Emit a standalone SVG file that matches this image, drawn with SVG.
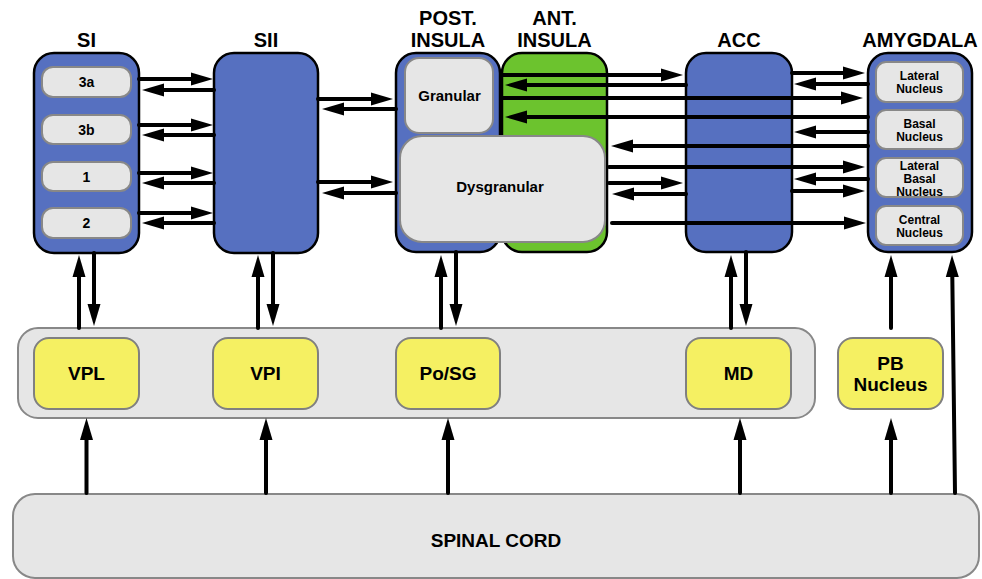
<svg xmlns="http://www.w3.org/2000/svg" width="982" height="579" viewBox="0 0 982 579">
<style>
.t{font-family:"Liberation Sans",Arial,sans-serif;font-weight:bold;fill:#000;text-anchor:middle}
.blue{fill:#5670C0;stroke:#000;stroke-width:2.5}
.green{fill:#6CC32E;stroke:#000;stroke-width:2.5}
.gray{fill:#E6E6E6;stroke:#888;stroke-width:2}
.yel{fill:#F5F062;stroke:#808080;stroke-width:2}
.c line{stroke:#000;stroke-width:4;stroke-linecap:round;marker-end:url(#ah)}
.c line.n{marker-end:none}
</style>
<defs>
<marker id="ah" markerUnits="userSpaceOnUse" markerWidth="22" markerHeight="13" refX="1" refY="6.5" orient="auto" overflow="visible"><path d="M0,0 L22,6.5 L0,13 z" fill="#000"/></marker>
</defs>
<rect width="982" height="579" fill="#fff"/>

<g id="spinal-cord">
<rect class="gray" x="13" y="494" width="966" height="84" rx="22"/>
<text class="t" x="496" y="547" font-size="19">SPINAL CORD</text>
</g>

<g id="thalamus">
<rect class="gray" x="18" y="328" width="797" height="90" rx="20"/>
</g>
<g id="vpl"><rect class="yel" x="34" y="338" width="105" height="71" rx="15"/><text class="t" x="86.5" y="380" font-size="19">VPL</text></g>
<g id="vpi"><rect class="yel" x="213" y="338" width="105" height="71" rx="15"/><text class="t" x="265.5" y="380" font-size="19">VPI</text></g>
<g id="posg"><rect class="yel" x="396" y="338" width="104" height="71" rx="15"/><text class="t" x="448" y="380" font-size="19">Po/SG</text></g>
<g id="md"><rect class="yel" x="686" y="338" width="105" height="71" rx="15"/><text class="t" x="738.5" y="380" font-size="19">MD</text></g>
<g id="pb"><rect class="yel" x="838" y="338" width="105" height="71" rx="15"/><text class="t" x="890.5" y="370" font-size="19">PB</text><text class="t" x="890.5" y="391" font-size="19">Nucleus</text></g>

<g id="si">
<text class="t" x="86.5" y="47" font-size="20">SI</text>
<rect class="blue" x="34" y="53" width="105" height="200" rx="20"/>
<rect class="gray" x="42" y="67" width="89" height="30" rx="11"/><text class="t" x="86.5" y="87" font-size="14">3a</text>
<rect class="gray" x="42" y="115" width="89" height="29" rx="11"/><text class="t" x="86.5" y="134.5" font-size="14">3b</text>
<rect class="gray" x="42" y="162" width="89" height="29" rx="11"/><text class="t" x="86.5" y="181.5" font-size="14">1</text>
<rect class="gray" x="42" y="208" width="89" height="30" rx="11"/><text class="t" x="86.5" y="228" font-size="14">2</text>
</g>

<g id="sii">
<text class="t" x="266" y="47" font-size="20">SII</text>
<rect class="blue" x="214" y="53" width="104" height="200" rx="20"/>
</g>

<g id="ant-insula">
<text class="t" x="554.5" y="25" font-size="20">ANT.</text>
<text class="t" x="554.5" y="47" font-size="20">INSULA</text>
<rect class="green" x="502" y="53" width="105" height="199" rx="20"/>
</g>

<g id="post-insula">
<text class="t" x="448" y="25" font-size="20">POST.</text>
<text class="t" x="448" y="47" font-size="20">INSULA</text>
<rect class="blue" x="396" y="53" width="104" height="199" rx="20"/>
<rect class="gray" x="405" y="58" width="88" height="75" rx="14"/>
<text class="t" x="449.5" y="101" font-size="15">Granular</text>
<rect class="gray" x="400" y="136" width="205" height="106" rx="22"/>
<text class="t" x="500" y="192" font-size="15">Dysgranular</text>
</g>

<g id="acc">
<text class="t" x="739" y="47" font-size="20">ACC</text>
<rect class="blue" x="686" y="53" width="106" height="199" rx="20"/>
</g>

<g id="amygdala">
<text class="t" x="920" y="47" font-size="20">AMYGDALA</text>
<rect class="blue" x="868" y="53" width="104" height="199" rx="20"/>
<rect class="gray" x="876" y="62" width="87" height="40" rx="10"/><text class="t" x="919.5" y="80" font-size="12">Lateral</text><text class="t" x="919.5" y="93" font-size="12">Nucleus</text>
<rect class="gray" x="876" y="110" width="87" height="39" rx="10"/><text class="t" x="919.5" y="128" font-size="12">Basal</text><text class="t" x="919.5" y="141" font-size="12">Nucleus</text>
<rect class="gray" x="876" y="158" width="87" height="39" rx="10"/><text class="t" x="919.5" y="170" font-size="12">Lateral</text><text class="t" x="919.5" y="183" font-size="12">Basal</text><text class="t" x="919.5" y="196" font-size="12">Nucleus</text>
<rect class="gray" x="876" y="206" width="87" height="39" rx="10"/><text class="t" x="919.5" y="224" font-size="12">Central</text><text class="t" x="919.5" y="237" font-size="12">Nucleus</text>
</g>

<g id="connectors" class="c">
<line x1="139" y1="79" x2="192" y2="79"/>
<line x1="214" y1="90" x2="163" y2="90"/>
<line x1="139" y1="125" x2="192" y2="125"/>
<line x1="214" y1="135" x2="163" y2="135"/>
<line x1="139" y1="173" x2="192" y2="173"/>
<line x1="214" y1="183" x2="163" y2="183"/>
<line x1="139" y1="213" x2="192" y2="213"/>
<line x1="214" y1="223" x2="163" y2="223"/>

<line x1="318" y1="99" x2="372" y2="99"/>
<line x1="396" y1="109" x2="343" y2="109"/>
<line x1="318" y1="182" x2="372" y2="182"/>
<line x1="396" y1="193" x2="343" y2="193"/>

<line x1="503" y1="75" x2="662" y2="75"/>
<line x1="686" y1="85" x2="526" y2="85"/>
<line x1="503" y1="98" x2="842" y2="98"/>
<line x1="868" y1="117" x2="526" y2="117"/>
<line x1="868" y1="146" x2="632" y2="146"/>
<line x1="609" y1="167" x2="844" y2="167"/>
<line x1="609" y1="183" x2="662" y2="183"/>
<line x1="686" y1="194" x2="633" y2="194"/>
<line x1="612" y1="223" x2="845" y2="223"/>

<line x1="792" y1="73" x2="844" y2="73"/>
<line x1="868" y1="84" x2="815" y2="84"/>
<line x1="868" y1="132" x2="815" y2="132"/>
<line x1="868" y1="179" x2="815" y2="179"/>
<line x1="792" y1="191" x2="844" y2="191"/>

<line x1="79" y1="328" x2="79" y2="276"/>
<line x1="94" y1="253" x2="94" y2="305"/>
<line x1="258" y1="328" x2="258" y2="276"/>
<line x1="273" y1="253" x2="273" y2="305"/>
<line x1="441" y1="328" x2="441" y2="276"/>
<line x1="456" y1="252" x2="456" y2="305"/>
<line x1="731" y1="328" x2="731" y2="276"/>
<line x1="746" y1="252" x2="746" y2="305"/>
<line x1="891" y1="328" x2="891" y2="276"/>
<line x1="955" y1="493" x2="952.3" y2="276"/>

<line x1="86.5" y1="493" x2="86.5" y2="439"/>
<line x1="266" y1="493" x2="266" y2="439"/>
<line x1="448" y1="493" x2="448" y2="439"/>
<line x1="740" y1="493" x2="740" y2="439"/>
<line x1="891" y1="493" x2="891" y2="439"/>
</g>
</svg>
